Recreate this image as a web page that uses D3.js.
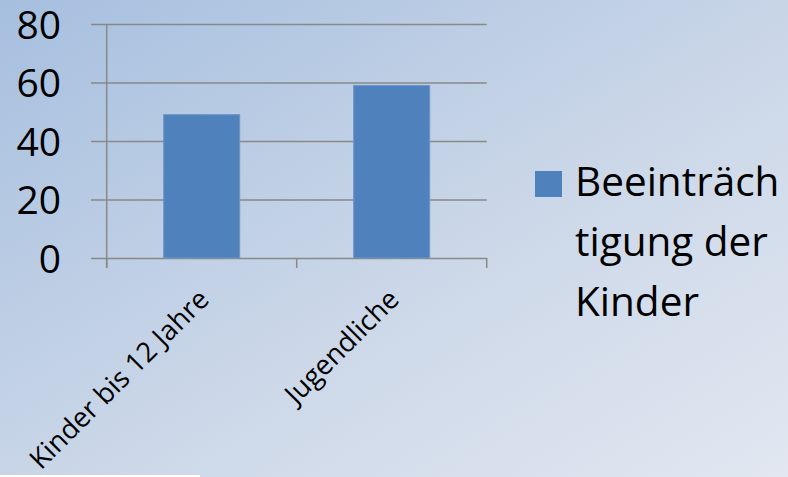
<!DOCTYPE html>
<html>
<head>
<meta charset="utf-8">
<script src="https://cdn.jsdelivr.net/npm/d3@7"></script>
<style>
  html, body { margin: 0; padding: 0; }
  svg { display: block; font-family: "Open Sans", "Noto Sans", sans-serif; }
</style>
</head>
<body>
<svg id="chart" width="788" height="477"></svg>
<script>
// Chart data
const categories = ["Kinder bis 12 Jahre", "Jugendliche"];
const values = [49, 59];
const yTicks = [0, 20, 40, 60, 80];
const seriesName = ["Beeinträch", "tigung der", "Kinder"];

(function () {
  const W = 788, H = 477;
  const svg = d3.select("#chart");

  // Background: diagonal light-blue gradient
  const defs = svg.append("defs");
  const grad = defs.append("linearGradient")
    .attr("id", "bg").attr("x1", "0").attr("y1", "0").attr("x2", "1").attr("y2", "1");
  grad.append("stop").attr("offset", "0%").attr("stop-color", "#a6bfdf");
  grad.append("stop").attr("offset", "55%").attr("stop-color", "#cbd7e8");
  grad.append("stop").attr("offset", "100%").attr("stop-color", "#e2e7f1");
  svg.append("rect").attr("width", W).attr("height", H).attr("fill", "url(#bg)");
  svg.append("rect").attr("x", 0).attr("y", 475).attr("width", 200).attr("height", 2).attr("fill", "#ffffff");

  // Plot area
  const plotL = 106.7, plotR = 486.7, plotT = 24, plotB = 258;
  const y = d3.scaleLinear().domain([0, 80]).range([plotB, plotT]);
  const x = d3.scaleBand().domain(categories).range([plotL, plotR]).padding(0);

  const gridColor = "#898989";

  // Gridlines + value labels
  const gy = svg.append("g")
    .attr("transform", "translate(91,0)")
    .call(d3.axisLeft(y).tickValues(yTicks).tickSize(-(plotR - 91)).tickPadding(30));
  gy.select(".domain").remove();
  gy.selectAll(".tick line").attr("stroke", gridColor).attr("stroke-width", 1.5);
  gy.selectAll(".tick text")
    .attr("fill", "#000").attr("font-size", 39)
    .attr("font-family", "'Open Sans', sans-serif")
    .attr("dy", "0.36em");

  // Vertical value axis line
  svg.append("line")
    .attr("x1", plotL).attr("x2", plotL).attr("y1", plotT).attr("y2", plotB + 10)
    .attr("stroke", gridColor).attr("stroke-width", 1.5);

  // Category boundary ticks
  const bounds = categories.map(c => x(c)).concat([x(categories[categories.length - 1]) + x.bandwidth()]);
  svg.append("g").selectAll("line").data(bounds).join("line")
    .attr("x1", d => d).attr("x2", d => d)
    .attr("y1", plotB).attr("y2", plotB + 10)
    .attr("stroke", gridColor).attr("stroke-width", 1.5);

  // Bars
  const barW = x.bandwidth() * 0.4;
  svg.append("g").selectAll("rect").data(values).join("rect")
    .attr("x", (d, i) => x(categories[i]) + (x.bandwidth() - barW) / 2)
    .attr("y", d => y(d))
    .attr("width", barW)
    .attr("height", d => y(0) - y(d))
    .attr("fill", "#4f81bd")
    .attr("stroke", "#6d95c7")
    .attr("stroke-width", 1);

  // Category labels, rotated
  svg.append("g").selectAll("text").data(categories).join("text")
    .attr("transform", d => `translate(${x(d) + x.bandwidth() / 2 + 9},${plotB + 43}) rotate(-45)`)
    .attr("text-anchor", "end")
    .attr("font-size", 27.5)
    .attr("fill", "#000")
    .text(d => d);

  // Legend
  const lg = svg.append("g");
  lg.append("rect").attr("x", 535).attr("y", 171).attr("width", 27).attr("height", 26).attr("fill", "#4f81bd");
  lg.selectAll("text").data(seriesName).join("text")
    .attr("x", 575)
    .attr("y", (d, i) => 196 + i * 60)
    .attr("font-size", 40.5)
    .attr("fill", "#000")
    .text(d => d);
})();
</script>
</body>
</html>
